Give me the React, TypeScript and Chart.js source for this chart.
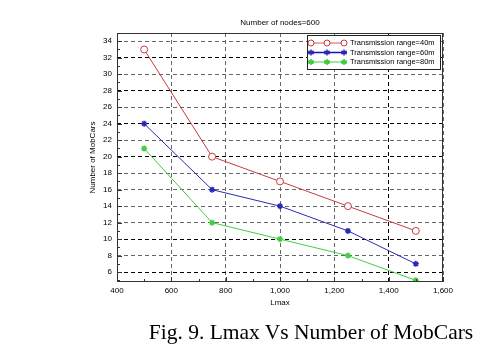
import React, { useEffect, useRef } from "react";
import { Chart, registerables } from "chart.js";
Chart.register(...registerables);

const lmax = [500, 750, 1000, 1250, 1500];
const range40 = [33, 20, 17, 14, 11];
const range60 = [24, 16, 14, 11, 7];
const range80 = [21, 12, 10, 8, 5];
const seriesLabels = ["Transmission range=40m", "Transmission range=60m", "Transmission range=80m"];
const yTicks = [6, 8, 10, 12, 14, 16, 18, 20, 22, 24, 26, 28, 30, 32, 34];
const yMinor = [5, 7, 9, 11, 13, 15, 17, 19, 21, 23, 25, 27, 29, 31, 33];
const xTicks = [400, 600, 800, 1000, 1200, 1400, 1600];
const xMinor = [500, 700, 900, 1100, 1300, 1500];
const darkY = [32, 28, 24, 20, 10, 6];
const darkX = [1400];
const chartTitle = "Number of nodes=600";
const caption = "Fig. 9. Lmax Vs Number of MobCars";

const FONT = "'Liberation Sans', Arial, sans-serif";

function drawMarker(ctx: any, ds: any, px: number, py: number) {
  const r = ds.pointRadius;
  ctx.save();
  ctx.setLineDash([]);
  ctx.fillStyle = ds.pointBackgroundColor;
  ctx.strokeStyle = ds.pointBorderColor;
  ctx.lineWidth = ds.pointBorderWidth;
  ctx.beginPath();
  if (ds.pointStyle === "circle") {
    ctx.arc(px, py, r, 0, Math.PI * 2);
    ctx.fill();
    ctx.stroke();
  } else {
    for (let k = 0; k < 3; k++) {
      const ang = (k * Math.PI) / 3 + Math.PI / 2;
      ctx.moveTo(px + Math.cos(ang) * r, py + Math.sin(ang) * r);
      ctx.lineTo(px - Math.cos(ang) * r, py - Math.sin(ang) * r);
    }
    ctx.moveTo(px - r, py);
    ctx.lineTo(px + r, py);
    ctx.stroke();
  }
  ctx.restore();
}

const decor = {
  id: "decor",
  afterDraw(chart: any) {
    const { ctx, chartArea: a, scales } = chart;
    const x = scales.x, y = scales.y;
    ctx.save();
    ctx.strokeStyle = "#333";
    ctx.lineWidth = 1;
    ctx.setLineDash([]);
    ctx.strokeRect(a.left + 0.5, a.top + 0.5, a.right - a.left - 1, a.bottom - a.top - 1);
    ctx.beginPath();
    yMinor.forEach((v) => {
      const p = Math.round(y.getPixelForValue(v)) + 0.5;
      if (p > a.top && p < a.bottom) { ctx.moveTo(a.left, p); ctx.lineTo(a.left + 3, p); }
    });
    yTicks.forEach((v) => {
      const p = Math.round(y.getPixelForValue(v)) + 0.5;
      ctx.moveTo(a.left, p); ctx.lineTo(a.left + 5, p);
    });
    xMinor.forEach((v) => {
      const p = Math.round(x.getPixelForValue(v)) + 0.5;
      ctx.moveTo(p, a.bottom); ctx.lineTo(p, a.bottom - 3);
    });
    xTicks.forEach((v) => {
      const p = Math.round(x.getPixelForValue(v)) + 0.5;
      ctx.moveTo(p, a.bottom); ctx.lineTo(p, a.bottom - 5);
    });
    ctx.stroke();
    ctx.fillStyle = "#000";
    ctx.font = "8px " + FONT;
    ctx.textAlign = "center";
    ctx.textBaseline = "middle";
    ctx.fillText(chartTitle, (a.left + a.right) / 2, 23);
    const lx = 307, ly = 35, lw = 133, lh = 34;
    ctx.fillStyle = "#fff";
    ctx.fillRect(lx, ly, lw, lh);
    ctx.strokeStyle = "#222";
    ctx.strokeRect(lx + 0.5, ly + 0.5, lw, lh);
    chart.data.datasets.forEach((ds: any, i: number) => {
      const ry = ly + 8 + i * 9.5;
      ctx.strokeStyle = ds.legendLine;
      ctx.lineWidth = 1.5;
      ctx.beginPath();
      ctx.moveTo(310, ry); ctx.lineTo(345, ry);
      ctx.stroke();
      [311, 327, 344].forEach((px) => drawMarker(ctx, { ...ds, pointRadius: 3 }, px, ry));
      ctx.fillStyle = "#000";
      ctx.font = "7.5px " + FONT;
      ctx.textAlign = "left";
      ctx.textBaseline = "middle";
      ctx.fillText(ds.label, 350, ry);
    });
    ctx.restore();
  },
};

export default function App() {
  const ref = useRef<HTMLCanvasElement>(null);
  useEffect(() => {
    const mk = (label: string, data: number[], color: string, legendLine: string, style: string, r: number, bg: string) => ({
      label,
      data: lmax.map((v, i) => ({ x: v, y: data[i] })),
      borderColor: color,
      borderWidth: 1,
      pointStyle: style,
      pointRadius: r,
      pointBorderWidth: style === "circle" ? 1 : 1.5,
      pointBackgroundColor: bg,
      pointBorderColor: color,
      legendLine,
      tension: 0,
    });
    const chart = new Chart(ref.current!, {
      type: "line",
      data: {
        datasets: [
          mk(seriesLabels[0], range40, "#c83c3c", "#e89090", "circle", 3.5, "#fff"),
          mk(seriesLabels[1], range60, "#2a2ab4", "#1010c0", "star", 3, "#2a2ab4"),
          mk(seriesLabels[2], range80, "#44cc44", "#80e080", "star", 3, "#44cc44"),
        ] as any,
      },
      plugins: [decor],
      options: {
        animation: false,
        responsive: false,
        events: [],
        layout: { padding: { left: 88, right: 55, top: 33, bottom: 52 } },
        plugins: { legend: { display: false }, title: { display: false }, tooltip: { enabled: false } },
        scales: {
          x: {
            type: "linear",
            min: 400,
            max: 1600,
            afterBuildTicks: (s: any) => { s.ticks = xTicks.map((v) => ({ value: v })); },
            afterFit: (s: any) => { s.height = 26; },
            ticks: {
              color: "#000",
              font: { size: 8, family: FONT },
              padding: 4,
              maxRotation: 0,
              callback: (v: any) => Number(v).toLocaleString("en-US"),
            },
            grid: {
              drawTicks: false,
              color: (c: any) => (darkX.includes(c.tick?.value) ? "#000" : "#666"),
              lineWidth: 1,
            },
            border: { display: false, dash: [4, 3] },
            title: { display: true, text: "Lmax", color: "#000", font: { size: 8, family: FONT }, padding: { top: 2, bottom: 0 } },
          },
          y: {
            type: "linear",
            min: 4.8,
            max: 35,
            afterBuildTicks: (s: any) => { s.ticks = yTicks.map((v) => ({ value: v })); },
            afterFit: (s: any) => { s.width = 29; },
            ticks: { color: "#000", font: { size: 8, family: FONT }, padding: 5 },
            grid: {
              drawTicks: false,
              color: (c: any) => (darkY.includes(c.tick?.value) ? "#000" : "#666"),
              lineWidth: 1,
            },
            border: { display: false, dash: [4, 3] },
            title: { display: true, text: "Number of MobCars", color: "#000", font: { size: 8, family: FONT }, padding: { top: 0, bottom: 0 } },
          },
        },
      } as any,
    });
    return () => chart.destroy();
  }, []);
  return (
    <div style={{ position: "absolute", left: 0, top: 0, width: 498, height: 360, background: "#fff" }}>
      <canvas ref={ref} width={498} height={360} style={{ display: "block" }} />
      <div
        style={{
          position: "absolute",
          left: 0,
          width: 622,
          top: 319,
          textAlign: "center",
          fontFamily: "'Liberation Serif', 'Times New Roman', serif",
          fontSize: 21.5,
          lineHeight: "26px",
          color: "#000",
          whiteSpace: "nowrap",
        }}
      >
        {caption}
      </div>
    </div>
  );
}
